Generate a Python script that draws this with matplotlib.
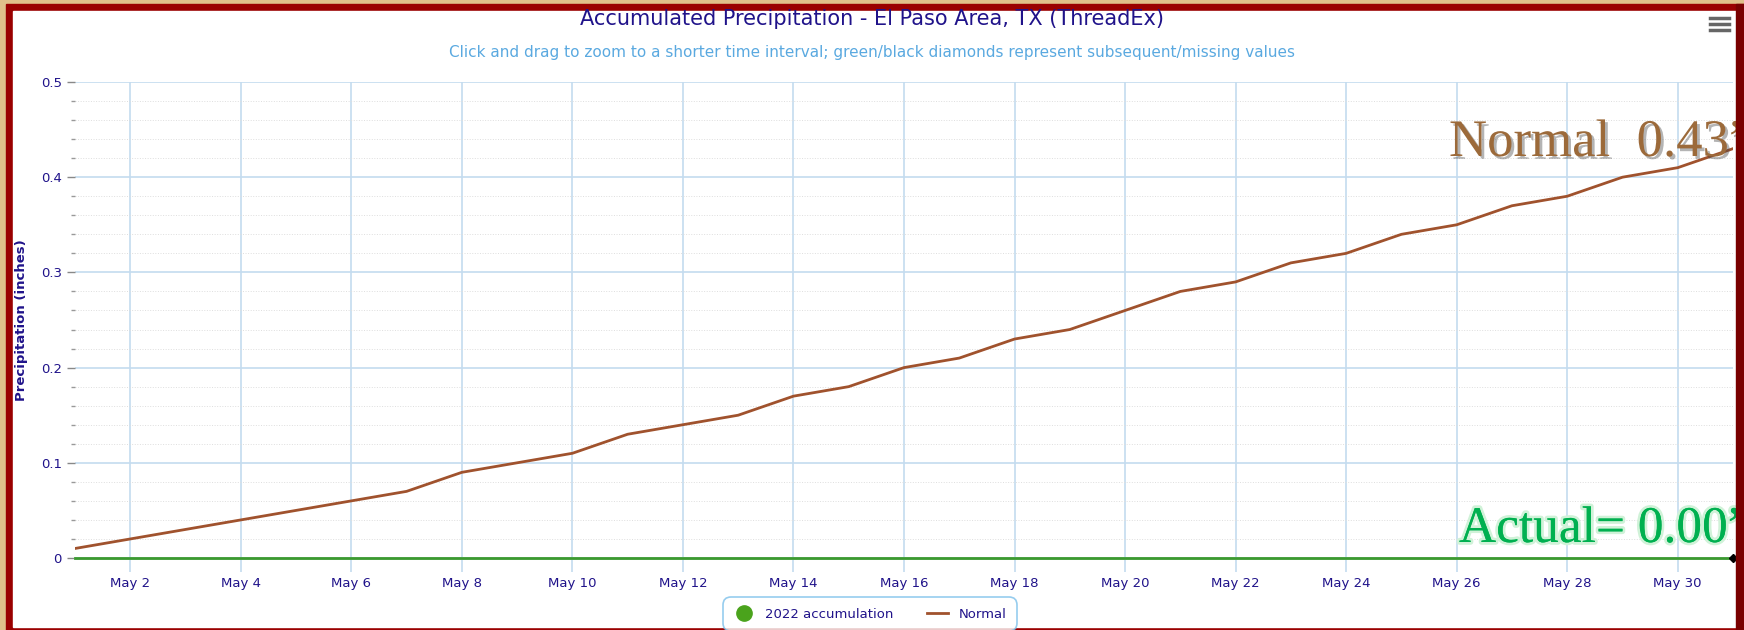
import pandas as pd
import matplotlib.pyplot as plt
import matplotlib.dates as mdates
import matplotlib.patheffects as pe
from matplotlib.patches import Rectangle
from matplotlib.lines import Line2D
from matplotlib.ticker import MultipleLocator

# Data: May 2022, El Paso area accumulated precipitation (inches)
dates = pd.date_range('2022-05-01', '2022-05-31', freq='D')
normal = [0.01, 0.02, 0.03, 0.04, 0.05, 0.06, 0.07, 0.09, 0.10, 0.11,
          0.13, 0.14, 0.15, 0.17, 0.18, 0.20, 0.21, 0.23, 0.24, 0.26,
          0.28, 0.29, 0.31, 0.32, 0.34, 0.35, 0.37, 0.38, 0.40, 0.41, 0.43]
actual_2022 = [0.0] * 31
tick_dates = pd.date_range('2022-05-02', '2022-05-30', freq='2D')

W, H = 1744, 630
navy = '#20138a'
grid_blue = '#c4dcef'

fig = plt.figure(figsize=(W / 100, H / 100), dpi=100, facecolor='#e0c08a')


def px(x0, y0, x1, y1):
    # pixel box (top-left origin) -> figure fraction rect
    return (x0 / W, 1 - y1 / H), (x1 - x0) / W, (y1 - y0) / H


# red frame and white panel (behind the axes)
xy, w, h = px(6, 4, W, H)
fig.patches.append(Rectangle(xy, w, h, transform=fig.transFigure, color='#9a0000', zorder=-3))
xy, w, h = px(13, 11, 1736, 627)
fig.patches.append(Rectangle(xy, w, h, transform=fig.transFigure, color='white', zorder=-2))
# right edge of the frame sits on top of the callout text
xy, w, h = px(1736, 4, W, H)
fig.patches.append(Rectangle(xy, w, h, transform=fig.transFigure, color='#7a0000', zorder=10))

ax = fig.add_axes([75 / W, 1 - 558 / H, (1733 - 75) / W, (558 - 82) / H])
ax.set_facecolor('white')

ax.plot(dates, normal, color='#a0522d', lw=2, label='Normal', zorder=3)
ax.plot(dates, actual_2022, color='#3c9a2e', lw=2, zorder=4, clip_on=False)
ax.plot(dates[-1:], actual_2022[-1:], marker='D', color='black', ms=4, ls='none',
        zorder=5, clip_on=False)
acc_handle = Line2D([], [], marker='o', color='#4aa31c', ms=11, ls='none')

ax.set_xlim(dates[0], dates[-1])
ax.set_ylim(0, 0.5)
ax.set_xticks(tick_dates)
ax.xaxis.set_major_formatter(mdates.DateFormatter('May %-d'))
ax.yaxis.set_minor_locator(MultipleLocator(0.02))
ax.set_yticks([0, 0.1, 0.2, 0.3, 0.4, 0.5])
ax.set_yticklabels(['0', '0.1', '0.2', '0.3', '0.4', '0.5'])

ax.grid(True, which='major', color=grid_blue, lw=1.2)
ax.grid(True, which='minor', axis='y', color='#dedede', lw=0.7, ls=':')
ax.set_axisbelow(True)
for side in ['top', 'right', 'left']:
    ax.spines[side].set_visible(False)
ax.spines['bottom'].set_color(grid_blue)
ax.spines['bottom'].set_linewidth(2)

ax.tick_params(axis='x', colors=grid_blue, length=10, width=1.2, labelcolor=navy,
               labelsize=9.5, pad=4)
ax.tick_params(axis='y', which='major', colors='#888888', length=6, width=1,
               labelcolor=navy, labelsize=9.5)
ax.tick_params(axis='y', which='minor', colors='#999999', length=3, width=1)

# y axis title
fig.text(22 / W, 1 - 320 / H, 'Precipitation (inches)', rotation=90, ha='center',
         va='center', color=navy, fontsize=9.5, fontweight='bold')

fig.text(0.5, 1 - 19 / H, 'Accumulated Precipitation - El Paso Area, TX (ThreadEx)',
         ha='center', va='center', color=navy, fontsize=15)
fig.text(0.5, 1 - 53 / H, 'Click and drag to zoom to a shorter time interval; '
         'green/black diamonds represent subsequent/missing values',
         ha='center', va='center', color='#5aa9e0', fontsize=11)

# big callouts (the frame clips the closing quote, as in the original)
fig.text(1449 / W, 1 - 156 / H, 'Normal  0.43\u201d', family='Liberation Serif',
         fontsize=38, color='#9c6a3a', ha='left', va='baseline', zorder=6,
         path_effects=[pe.withSimplePatchShadow(offset=(2, -2), shadow_rgbFace='#444444',
                                                alpha=0.4)])
fig.text(1459 / W, 1 - 542 / H, 'Actual= 0.00\u201d', family='Liberation Serif',
         fontsize=37, color='#00b050', ha='left', va='baseline', zorder=6,
         path_effects=[pe.withStroke(linewidth=4, foreground='#d0f2d8'), pe.Normal()])

# hamburger menu
for yy in (18, 24, 30):
    fig.lines.append(Line2D([1710 / W, 1729 / W], [1 - yy / H] * 2, transform=fig.transFigure,
                            color='#666666', lw=2.5))

normal_handle = ax.get_lines()[0]
leg = fig.legend([acc_handle, normal_handle], ['2022 accumulation', 'Normal'], loc='center',
                 bbox_to_anchor=(870 / W, 1 - 614 / H), ncol=2, frameon=True,
                 fontsize=9.5, handlelength=1.6, columnspacing=2.5, borderpad=0.6,
                 handletextpad=0.8)
leg.get_frame().set_edgecolor('#7cc0ea')
leg.get_frame().set_linewidth(1.2)
leg.get_frame().set_boxstyle('round,pad=0.2,rounding_size=0.6')
for t in leg.get_texts():
    t.set_color(navy)

fig.savefig('out.png', dpi=100, facecolor=fig.get_facecolor())
plt.close()
